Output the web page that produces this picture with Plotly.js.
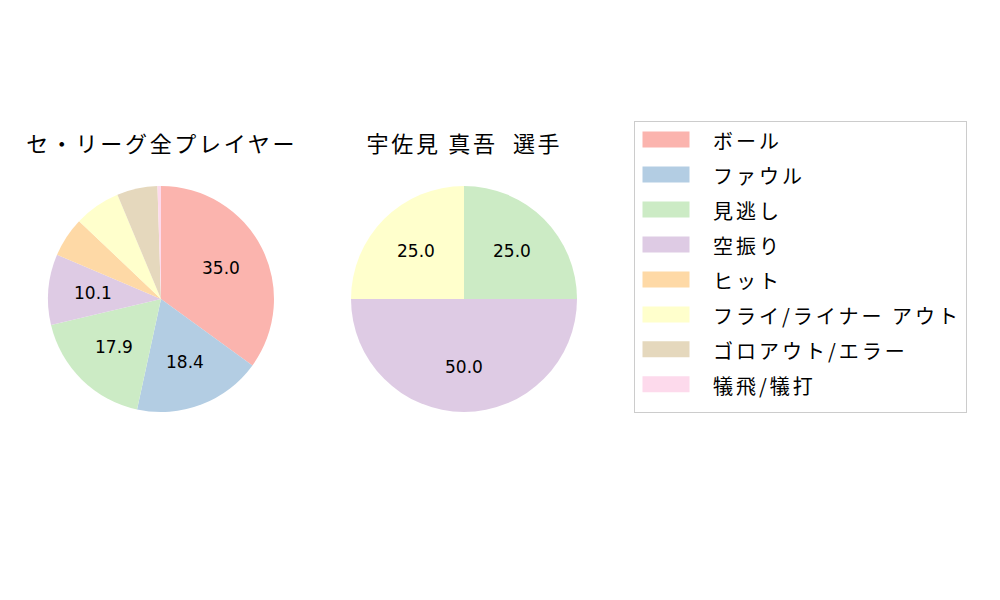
<!DOCTYPE html>
<html>
<head>
<meta charset="utf-8">
<script src="https://cdn.plot.ly/plotly-3.0.1.min.js"></script>
<style>
  body { margin: 0; background: #fff; }
  #chart { width: 1000px; height: 600px; }
  .legendtext { font-size: 20px !important; letter-spacing: 3px; }
  g.annotation[data-index="0"] text, g.annotation[data-index="1"] text { letter-spacing: 2.7px; }
</style>
</head>
<body>
<div id="chart"></div>
<script>
var labels = ["ボール", "ファウル", "見逃し", "空振り", "ヒット", "フライ/ライナー アウト", "ゴロアウト/エラー", "犠飛/犠打"];
var colors = ["#fbb4ae", "#b3cde3", "#ccebc5", "#decbe4", "#fed9a6", "#ffffcc", "#e5d8bd", "#fddaec"];

var leagueTitle = "セ・リーグ全プレイヤー";
var leagueValues = [35.0, 18.4, 17.9, 10.1, 5.7, 6.6, 5.8, 0.5];

var playerTitle = "宇佐見 真吾  選手";
var playerLabels = ["見逃し", "空振り", "フライ/ライナー アウト"];
var playerValues = [25.0, 50.0, 25.0];
var playerColors = ["#ccebc5", "#decbe4", "#ffffcc"];

var font = "'Noto Sans CJK JP', 'DejaVu Sans', sans-serif";
var R = 113, CY = 299;

function pieTrace(lab, vals, cols, cx)
{
	var cy = 1 - CY / 600;
	return {
		type: "pie",
		labels: lab,
		values: vals,
		textinfo: "none",
		sort: false,
		direction: "clockwise",
		rotation: 0,
		marker: { colors: cols, line: { width: 0 } },
		hoverinfo: "none",
		domain: {
			x: [(cx - R) / 1000, (cx + R) / 1000],
			y: [cy - R / 600, cy + R / 600]
		}
	};
}

// etiquettes de pourcentage a 0.6 du rayon, comme autopct
function pctLabels(vals, cx)
{
	var tot = 0;
	for (var i = 0; i < vals.length; i++) tot += vals[i];
	var out = [];
	var acc = 0;
	for (var i = 0; i < vals.length; i++) {
		var mid = (acc + vals[i] / 2) / tot * 2 * Math.PI;
		acc += vals[i];
		if (vals[i] / tot * 100 < 10) continue;
		var px = cx + 0.6 * R * Math.sin(mid);
		var py = CY - 0.6 * R * Math.cos(mid);
		out.push({
			text: (vals[i] / tot * 100).toFixed(1),
			x: px / 1000, y: 1 - py / 600, xref: "paper", yref: "paper",
			showarrow: false, xanchor: "center", yanchor: "middle",
			font: { family: "DejaVu Sans, sans-serif", size: 17, color: "#000" }
		});
	}
	return out;
}

var data = [
	pieTrace(labels, leagueValues, colors, 161),
	pieTrace(playerLabels, playerValues, playerColors, 464)
];

var titles = [
	{ text: leagueTitle, x: 161 / 1000, y: 1 - 142 / 600, xref: "paper", yref: "paper",
	  showarrow: false, xanchor: "center", yanchor: "middle", font: { family: font, size: 22 } },
	{ text: playerTitle, x: 464 / 1000, y: 1 - 142 / 600, xref: "paper", yref: "paper",
	  showarrow: false, xanchor: "center", yanchor: "middle", font: { family: font, size: 22 } }
];

var layout = {
	width: 1000,
	height: 600,
	margin: { l: 0, r: 0, t: 0, b: 0 },
	paper_bgcolor: "#fff",
	font: { family: font, color: "#000" },
	showlegend: true,
	legend: {
		x: 0.634,
		y: 1 - 121 / 600,
		xanchor: "left",
		yanchor: "top",
		bordercolor: "#cccccc",
		borderwidth: 1,
		itemwidth: 68,
		font: { family: font, size: 24.6, color: "#000" },
		traceorder: "normal"
	},
	annotations: titles.concat(pctLabels(leagueValues, 161), pctLabels(playerValues, 464))
};

Plotly.newPlot("chart", data, layout, { displayModeBar: false, staticPlot: true }).then(function(gd) {
	// symboles de legende en rectangles larges
	var pts = gd.querySelectorAll(".legend .legendpoints path");
	for (var i = 0; i < pts.length; i++) {
		pts[i].setAttribute("d", "M-31.5,-8h47v16h-47z");
	}
	// remonter les entrees de legende
	var items = gd.querySelectorAll(".legend .traces");
	for (var i = 0; i < items.length; i++) {
		var t = items[i].getAttribute("transform") || "";
		var m = t.match(/translate\(\s*([-\d.e]+)[ ,]+([-\d.e]+)\s*\)/);
		if (m) {
			items[i].setAttribute("transform", "translate(" + m[1] + "," + (parseFloat(m[2]) - 5) + ")");
		}
	}
});
</script>
</body>
</html>
